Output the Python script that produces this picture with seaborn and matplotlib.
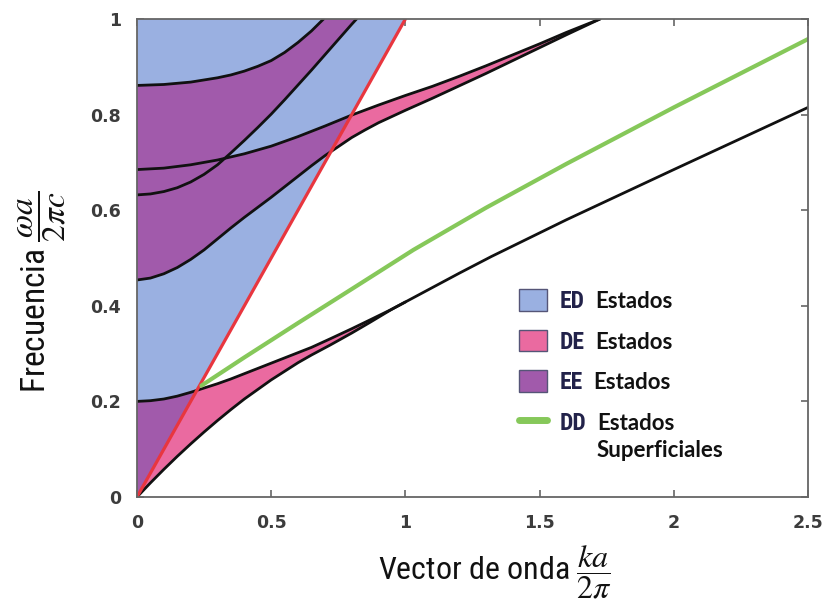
import numpy as np
import pandas as pd
import matplotlib
matplotlib.use("Agg")
import matplotlib.pyplot as plt
import seaborn as sns
from matplotlib.patches import Polygon, Patch
from matplotlib.lines import Line2D
from matplotlib import font_manager as fm
from matplotlib.transforms import IdentityTransform

# ---------------- data ----------------
light_k = [0.0, 1.0]
light_w = [0.0, 1.0]

# band 1 (lowest): lower and upper edges
b1_lo_k = [0.0, 0.05, 0.1, 0.15, 0.2, 0.25, 0.3, 0.35, 0.4, 0.45, 0.5, 0.55, 0.6, 0.65,
           0.72, 0.8, 0.87, 0.95, 1.0, 1.1, 1.2, 1.32, 1.6, 2.0, 2.5]
b1_lo_w = [0.0, 0.0295, 0.0578, 0.085, 0.111, 0.136, 0.160, 0.183, 0.205, 0.225, 0.245,
           0.263, 0.281, 0.297, 0.318, 0.343, 0.366, 0.393, 0.408, 0.438, 0.468, 0.503,
           0.58, 0.685, 0.815]
b1_hi_k = [0.0, 0.05, 0.1, 0.15, 0.2, 0.25, 0.3, 0.35, 0.4, 0.45, 0.5, 0.55, 0.6, 0.65,
           0.72, 0.8, 0.87, 0.95, 1.0]
b1_hi_w = [0.2, 0.2015, 0.205, 0.211, 0.219, 0.228, 0.237, 0.247, 0.258, 0.269, 0.28,
           0.291, 0.302, 0.313, 0.331, 0.352, 0.371, 0.393, 0.408]

# band A (second): lower and upper edges
bA_lo_k = [0.0, 0.05, 0.1, 0.15, 0.2, 0.25, 0.3, 0.35, 0.4, 0.45, 0.5, 0.55, 0.6, 0.65,
           0.7, 0.75, 0.8, 0.85, 0.9, 0.95, 1.0, 1.1, 1.2, 1.3, 1.4, 1.5, 1.6, 1.725]
bA_lo_w = [0.454, 0.458, 0.467, 0.48, 0.497, 0.517, 0.54, 0.563, 0.585, 0.606, 0.627,
           0.649, 0.671, 0.693, 0.714, 0.733, 0.752, 0.768, 0.783, 0.796, 0.809, 0.834,
           0.86, 0.886, 0.913, 0.94, 0.967, 1.0]
bA_hi_k = [0.0, 0.1, 0.2, 0.3, 0.4, 0.5, 0.6, 0.7, 0.8, 0.9, 1.0, 1.1, 1.2, 1.3, 1.4,
           1.5, 1.6, 1.725]
bA_hi_w = [0.685, 0.688, 0.695, 0.705, 0.718, 0.734, 0.754, 0.776, 0.799, 0.82, 0.84,
           0.859, 0.88, 0.902, 0.925, 0.948, 0.972, 1.0]

# band B (third): lower and upper edges
bB_lo_k = [0.0, 0.05, 0.1, 0.15, 0.2, 0.25, 0.3, 0.35, 0.4, 0.45, 0.5, 0.55, 0.6, 0.65,
           0.7, 0.75, 0.8, 0.818]
bB_lo_w = [0.632, 0.634, 0.639, 0.647, 0.659, 0.675, 0.695, 0.72, 0.746, 0.773, 0.801,
           0.831, 0.862, 0.893, 0.925, 0.957, 0.989, 1.0]
bB_hi_k = [0.0, 0.1, 0.2, 0.3, 0.35, 0.4, 0.45, 0.5, 0.55, 0.6, 0.65, 0.695]
bB_hi_w = [0.861, 0.863, 0.868, 0.877, 0.883, 0.891, 0.901, 0.913, 0.93, 0.951, 0.975, 1.0]

# surface state (green)
surf_k = [0.24, 0.4, 0.6, 0.8, 1.03, 1.3, 1.6, 2.0, 2.5]
surf_w = [0.233, 0.292, 0.364, 0.435, 0.517, 0.605, 0.697, 0.815, 0.958]

xticks = [0, 0.5, 1, 1.5, 2, 2.5]
xtick_labels = ["0", "0.5", "1", "1.5", "2", "2.5"]
yticks = [0, 0.2, 0.4, 0.6, 0.8, 1.0]
ytick_labels = ["0", "0.2", "0.4", "0.6", "0.8", "1"]

legend_codes = ["ED", "DE", "EE", "DD"]
legend_words = ["Estados", "Estados", "Estados", "Estados"]
legend_extra = "Superficiales"

xlabel_text = r"Vector de onda $\dfrac{ka}{2\pi}$"
ylabel_text = r"Frecuencia $\dfrac{\omega a}{2\pi c}$"

# ---------------- style ----------------
C_BLUE = "#9ab0e1"
C_PINK = "#ea6aa0"
C_PURPLE = "#a15aab"
C_GREEN = "#86c85a"
C_RED = "#e8363f"

sns.set_theme(style="ticks")
avail = {f.name for f in fm.fontManager.ttflist}


def pick(*names):
    for n in names:
        if n in avail:
            return n
    return None


narrow = pick("Liberation Sans Narrow", "Roboto Condensed", "Open Sans Condensed",
              "Noto Sans Condensed", "DejaVu Sans Condensed")
if narrow is None:
    narrow_fp = dict(family=["Noto Sans", "DejaVu Sans"], stretch="condensed")
else:
    narrow_fp = dict(family=[narrow, "DejaVu Sans"])
word_font = pick("Lato", "Open Sans", "DejaVu Sans")

plt.rcParams["font.family"] = ["DejaVu Sans"]
plt.rcParams["mathtext.fontset"] = "stix"

fig = plt.figure(figsize=(8.27, 6.02), dpi=100)
ax = fig.add_axes([137 / 827, 105 / 602, 671 / 827, 478 / 602])
ax.set_xlim(0, 2.5)
ax.set_ylim(0, 1)

# light cone (blue)
ax.fill([light_k[0], light_k[1], 0.0], [light_w[0], light_w[1], light_w[1]],
        color=C_BLUE, lw=0, zorder=1)

clip_in = Polygon([[light_k[0], light_w[0]], [light_k[1], light_w[1]], [0, light_w[1]]],
                  closed=True, transform=ax.transData)
clip_out = Polygon([[light_k[0], light_w[0]], [2.5, 0], [2.5, 1], [light_k[1], light_w[1]]],
                   closed=True, transform=ax.transData)


def band_poly(lo_k, lo_w, hi_k, hi_w):
    lk = np.asarray(lo_k)
    lw = np.asarray(lo_w)
    m = lk <= hi_k[-1] + 1e-9
    xs = np.concatenate([lk[m], np.asarray(hi_k)[::-1]])
    ys = np.concatenate([lw[m], np.asarray(hi_w)[::-1]])
    return xs, ys


p1x, p1y = band_poly(b1_lo_k, b1_lo_w, b1_hi_k, b1_hi_w)
pAx, pAy = band_poly(bA_lo_k, bA_lo_w, bA_hi_k, bA_hi_w)
pBx = np.concatenate([bB_lo_k, bB_hi_k[::-1]])
pBy = np.concatenate([bB_lo_w, bB_hi_w[::-1]])

for px, py in [(p1x, p1y), (pAx, pAy), (pBx, pBy)]:
    poly = ax.fill(px, py, color=C_PURPLE, lw=0, zorder=2)[0]
    poly.set_clip_path(clip_in)
for px, py in [(p1x, p1y), (pAx, pAy)]:
    poly = ax.fill(px, py, color=C_PINK, lw=0, zorder=2)[0]
    poly.set_clip_path(clip_out)

# band edges
for kk, ww in [(b1_lo_k, b1_lo_w), (b1_hi_k, b1_hi_w), (bA_lo_k, bA_lo_w),
               (bA_hi_k, bA_hi_w), (bB_lo_k, bB_lo_w), (bB_hi_k, bB_hi_w)]:
    sns.lineplot(x=kk, y=ww, ax=ax, color="#111111", lw=2.0, sort=False,
                 estimator=None, zorder=3)

sns.lineplot(x=light_k, y=light_w, ax=ax, color=C_RED, lw=2.3, sort=False,
             estimator=None, zorder=4)
sns.lineplot(x=surf_k, y=surf_w, ax=ax, color=C_GREEN, lw=3.0, sort=False,
             estimator=None, zorder=4)

# axes styling
for s in ax.spines.values():
    s.set_color("#666666")
    s.set_linewidth(1.3)
    s.set_zorder(6)
ax.set_xticks(xticks, labels=xtick_labels, fontweight="bold")
ax.set_yticks(yticks, labels=ytick_labels, fontweight="bold")
ax.tick_params(direction="in", length=5, width=1.2, color="#666666", top=True,
               right=True, labelsize=12.5, labelcolor="#3c3c3c")
ax.tick_params(axis="x", pad=12)
ax.tick_params(axis="y", pad=11.5)
ax.grid(False)

ax.set_xlabel(xlabel_text, fontsize=23, color="#111111", **narrow_fp)
ax.xaxis.set_label_coords((495 - 137) / 671, (30 - 105) / 478)
ax.xaxis.label.set_va("center")
ax.set_ylabel(ylabel_text, fontsize=24, color="#111111", **narrow_fp)
ax.yaxis.set_label_coords((42 - 137) / 671, (602 - 292 - 105) / 478)
ax.yaxis.label.set_va("center")
ax.yaxis.label.set_ha("center")

# legend
handles = [Patch(facecolor=C_BLUE, edgecolor="#555577", lw=1.0),
           Patch(facecolor=C_PINK, edgecolor="#555577", lw=1.0),
           Patch(facecolor=C_PURPLE, edgecolor="#555577", lw=1.0),
           Line2D([0], [0], color=C_GREEN, lw=5)]
leg = ax.legend(handles, legend_codes, loc="upper left",
                bbox_to_anchor=(519 / 827, 1 - 289 / 602), bbox_transform=fig.transFigure,
                frameon=False, borderpad=0, borderaxespad=0,
                prop=fm.FontProperties(size=17, weight="bold", **narrow_fp),
                handlelength=1.2, handleheight=1.05, handletextpad=0.5,
                labelspacing=0.7)
for t in leg.get_texts():
    t.set_color("#22224a")
leg.set_zorder(7)

fig.canvas.draw()
renderer = fig.canvas.get_renderer()
last = None
for t, word in zip(leg.get_texts(), legend_words):
    bb = t.get_window_extent(renderer)
    cy = (bb.y0 + bb.y1) / 2
    x0 = bb.x1 + 11
    fig.text(x0, cy, word, transform=IdentityTransform(), va="center", ha="left",
             fontsize=16, fontweight="bold", family=[word_font, "DejaVu Sans"],
             color="#111111")
    last = (x0, cy)
fig.text(last[0], last[1] - 27, legend_extra, transform=IdentityTransform(), va="center",
         ha="left", fontsize=16, fontweight="bold", family=[word_font, "DejaVu Sans"],
         color="#111111")

fig.savefig("out.png", dpi=100)
